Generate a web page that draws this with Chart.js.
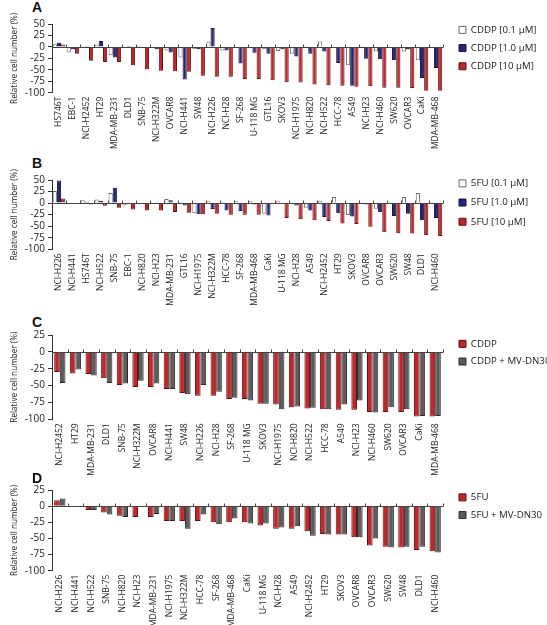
<!DOCTYPE html>
<html>
<head>
<meta charset="utf-8">
<script src="https://cdn.jsdelivr.net/npm/chart.js@4.4.0/dist/chart.umd.min.js"></script>
<style>
  body { margin: 0; background: #fff; }
  #page { position: relative; width: 547px; height: 625px; overflow: hidden; }
  .panel { position: absolute; left: 0; width: 547px; }
  .letter { position: absolute; left: 32px; font: bold 14px 'Liberation Sans', Arial, sans-serif; line-height: 14px; color: #111; }
</style>
</head>
<body>
<div id="page">
  <div class="letter" style="top:0px">A</div>
  <div class="panel" style="top:0px"><canvas id="chart-a" width="547" height="150"></canvas></div>
  <div class="letter" style="top:156px">B</div>
  <div class="panel" style="top:150px"><canvas id="chart-b" width="547" height="160"></canvas></div>
  <div class="letter" style="top:315px">C</div>
  <div class="panel" style="top:310px"><canvas id="chart-c" width="547" height="170"></canvas></div>
  <div class="letter" style="top:471px">D</div>
  <div class="panel" style="top:470px"><canvas id="chart-d" width="547" height="160"></canvas></div>
</div>
<script>
// panel A: CDDP dose series
const labelsA = ['HS746T', 'EBC-1', 'NCI-H2452', 'HT29', 'MDA-MB-231', 'DLD1', 'SNB-75', 'NCI-H322M', 'OVCAR8',
    'NCI-H441', 'SW48', 'NCI-H226', 'NCI-H28', 'SF-268', 'U-118 MG', 'GTL16', 'SKOV3', 'NCI-H1975', 'NCI-H820',
    'NCI-H522', 'HCC-78', 'A549', 'NCI-H23', 'NCI-H460', 'SW620', 'OVCAR3', 'CaKi', 'MDA-MB-468'];
const cddp01 = [6, -12, -2, 5, -18, -2, 2, -3, -8, -23, -5, 12, -8, -3, -3, -5, -9, -15, 2, 12, -2, -40, 2, -10, -3, -10, -29, -3];
const cddp1 = [9, -5, 2, 13, -23, 2, -1, -5, -12, -71, -5, 41, -8, -36, -13, -15, -5, -21, -15, -10, -35, -85, -26, -27, -29, -5, -68, -46];
const cddp10 = [5, -15, -30, -33, -33, -40, -49, -52, -53, -54, -63, -65, -65, -70, -70, -73, -77, -78, -82, -84, -85, -87, -86, -89, -89, -90, -96, -96];

// panel B: 5FU dose series
const labelsB = ['NCI-H226', 'NCI-H441', 'HS746T', 'NCI-H522', 'SNB-75', 'EBC-1', 'NCI-H820', 'NCI-H23', 'MDA-MB-231',
    'GTL16', 'NCI-H1975', 'NCI-H322M', 'HCC-78', 'SF-268', 'MDA-MB-468', 'CaKi', 'U-118 MG', 'NCI-H28', 'A549',
    'NCI-H2452', 'HT29', 'SKOV3', 'OVCAR8', 'OVCAR3', 'SW620', 'SW48', 'DLD1', 'NCI-H460'];
const fu01 = [26, 0, 6, 8, 22, -5, 0, 2, 9, 2, -22, 4, 3, 4, 4, -23, 4, 1, -10, 5, 13, -26, -1, -12, 2, 13, 22, 2];
const fu1 = [49, -1, 3, 5, 33, 2, -2, 2, 6, -5, -24, -13, -16, -17, -3, -27, -1, -5, -16, -30, -22, -29, -3, -20, -28, -23, -37, -32];
const fu10 = [10, -1, -3, -6, -10, -14, -16, -16, -19, -21, -24, -23, -25, -25, -25, -2, -32, -35, -37, -39, -44, -45, -51, -63, -65, -66, -69, -71];

// panel C: CDDP alone vs with MV-DN30
const labelsC = ['NCI-H2452', 'HT29', 'MDA-MB-231', 'DLD1', 'SNB-75', 'NCI-H322M', 'OVCAR8', 'NCI-H441', 'SW48',
    'NCI-H226', 'NCI-H28', 'SF-268', 'U-118 MG', 'SKOV3', 'NCI-H1975', 'NCI-H820', 'NCI-H522', 'HCC-78', 'A549',
    'NCI-H23', 'NCI-H460', 'SW620', 'OVCAR3', 'CaKi', 'MDA-MB-468'];
const cddpAlone = [-30, -32, -33, -39, -49, -52, -52, -55, -61, -65, -65, -70, -70, -77, -78, -82, -84, -85, -86, -86, -89, -89, -89, -96, -96];
const cddpDN30 = [-46, -26, -35, -46, -47, -43, -47, -55, -63, -49, -59, -68, -72, -77, -85, -81, -83, -85, -78, -72, -90, -82, -85, -95, -95];

// panel D: 5FU alone vs with MV-DN30
const labelsD = ['NCI-H226', 'NCI-H441', 'NCI-H522', 'SNB-75', 'NCI-H820', 'NCI-H23', 'MDA-MB-231', 'NCI-H1975',
    'NCI-H322M', 'HCC-78', 'SF-268', 'MDA-MB-468', 'CaKi', 'U-118 MG', 'NCI-H28', 'A549', 'NCI-H2452', 'HT29',
    'SKOV3', 'OVCAR8', 'OVCAR3', 'SW620', 'SW48', 'DLD1', 'NCI-H460'];
const fuAlone = [9, -1.5, -6, -10, -15, -17, -17, -23, -23, -23, -25, -25, -25, -30, -35, -35, -39, -43, -44, -48, -61, -63, -64, -68, -70];
const fuDN30 = [12, -1.5, -6, -13, -17, -1, -12, -23, -35, -13, -28, -19, -27, -27, -33, -31, -46, -44, -44, -48, -50, -64, -63, -63, -72];

const FONT = "'Open Sans', 'DejaVu Sans', sans-serif";
const WHITE = ['#ffffff', '#6a6a6a'];
const BLUE = ['#27277a', '#15153f'];
const RED = ['#c0262c', '#5c1113'];
const GRAY = ['#5c5c5c', '#2a2a2a'];

// zero line with small category marks, like the axis in the figure
const zeroLine = {
    id: 'zeroLine',
    afterDatasetsDraw(chart) {
        const { ctx, chartArea, scales } = chart;
        const y0 = Math.round(scales.y.getPixelForValue(0)) + 0.5;
        const n = chart.data.labels.length;
        const w = (chartArea.right - chartArea.left) / n;
        ctx.save();
        ctx.strokeStyle = '#444';
        ctx.lineWidth = 1;
        ctx.beginPath();
        ctx.moveTo(chartArea.left, y0);
        ctx.lineTo(chartArea.right, y0);
        for (let i = 1; i <= n; i++) {
            const px = Math.round(chartArea.left + i * w) + 0.5;
            ctx.moveTo(px, y0);
            ctx.lineTo(px, y0 - 3);
        }
        ctx.stroke();
        ctx.restore();
    }
};

// move the legend out of the chart area to a fixed place on the right
const legendPlace = {
    id: 'legendPlace',
    beforeDraw(chart, args, opts) {
        const lg = chart.legend;
        if (!lg) return;
        const pad = lg.options.labels.padding;
        const w = lg.right - lg.left, h = lg.bottom - lg.top;
        lg.left = opts.x - pad;
        lg.top = opts.y - pad;
        lg.right = lg.left + w;
        lg.bottom = lg.top + h;
    }
};

function bars(label, data, colors) {
    return {
        label: label,
        data: data,
        backgroundColor: colors[0],
        borderColor: colors[1],
        borderWidth: 1
    };
}

function makePanel(id, labels, datasets, cfg) {
    const ctx = document.getElementById(id).getContext('2d');
    return new Chart(ctx, {
        type: 'bar',
        data: { labels: labels, datasets: datasets },
        plugins: [zeroLine, legendPlace],
        options: {
            responsive: false,
            animation: false,
            categoryPercentage: cfg.catPct,
            barPercentage: 1.0,
            layout: { padding: { top: cfg.top, right: 104, bottom: 0, left: 0 } },
            plugins: {
                tooltip: { enabled: false },
                legend: {
                    position: 'chartArea',
                    align: 'start',
                    labels: {
                        boxWidth: 7,
                        boxHeight: 7,
                        padding: cfg.legendGap,
                        color: '#222',
                        font: { family: FONT, size: 9.7 }
                    }
                },
                legendPlace: { x: 459, y: cfg.legendY }
            },
            scales: {
                x: {
                    grid: { display: false, drawTicks: false },
                    border: { display: false },
                    ticks: {
                        autoSkip: false,
                        minRotation: 90,
                        maxRotation: 90,
                        padding: 4,
                        color: '#222',
                        font: { family: FONT, size: 8.5 }
                    },
                    afterFit: scale => { scale.height = cfg.xHeight; }
                },
                y: {
                    min: -100,
                    max: cfg.max,
                    ticks: {
                        stepSize: 25,
                        autoSkip: false,
                        padding: 3,
                        color: '#222',
                        font: { family: FONT, size: 10 }
                    },
                    grid: { drawOnChartArea: false, tickLength: 4, color: '#333' },
                    border: { color: '#333' },
                    title: {
                        display: true,
                        text: 'Relative cell number (%)',
                        color: '#222',
                        font: { family: FONT, size: 8.2 },
                        padding: { top: 10, bottom: 0 }
                    },
                    afterFit: scale => { scale.width = 52; }
                }
            }
        }
    });
}

makePanel('chart-a', labelsA, [
    bars('CDDP [0.1 \u03BCM]', cddp01, WHITE),
    bars('CDDP [1.0 \u03BCM]', cddp1, BLUE),
    bars('CDDP [10 \u03BCM]', cddp10, RED)
], { max: 50, top: 24, xHeight: 57.3, catPct: 0.9, legendY: 25, legendGap: 8.5 });

makePanel('chart-b', labelsB, [
    bars('5FU [0.1 \u03BCM]', fu01, WHITE),
    bars('5FU [1.0 \u03BCM]', fu1, BLUE),
    bars('5FU [10 \u03BCM]', fu10, RED)
], { max: 50, top: 30, xHeight: 60.7, catPct: 0.9, legendY: 28.5, legendGap: 9.5 });

makePanel('chart-c', labelsC, [
    bars('CDDP', cddpAlone, RED),
    bars('CDDP + MV-DN30', cddpDN30, GRAY)
], { max: 25, top: 25, xHeight: 60.7, catPct: 0.72, legendY: 29, legendGap: 8 });

makePanel('chart-d', labelsD, [
    bars('5FU', fuAlone, RED),
    bars('5FU + MV-DN30', fuDN30, GRAY)
], { max: 25, top: 20, xHeight: 59.3, catPct: 0.72, legendY: 22.5, legendGap: 8 });
</script>
</body>
</html>
